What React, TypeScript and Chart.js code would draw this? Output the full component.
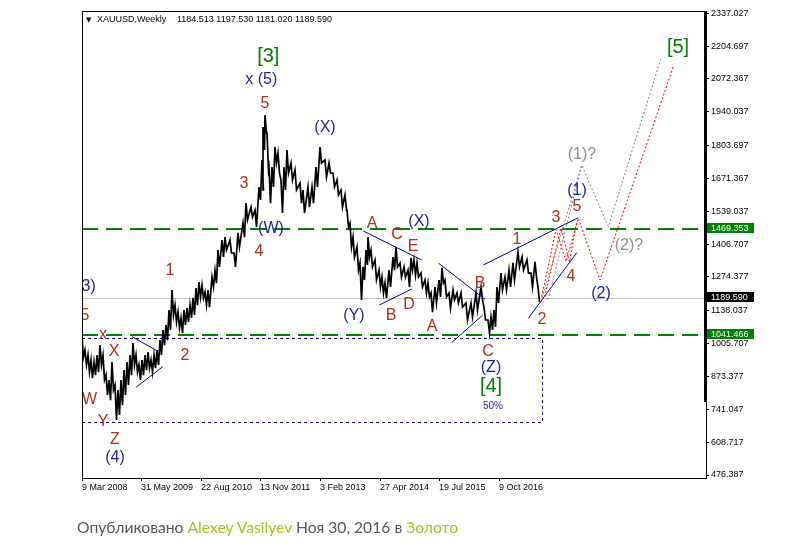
import React, { useEffect, useRef } from "react";
import { Chart, registerables } from "chart.js";

Chart.register(...registerables);

// ---- weekly XAUUSD ranges (bar index from 9 Mar 2008, high, low) ----
const weekIdx = [
  0, 3, 6, 9, 12, 15, 18, 21, 24, 27, 30, 33, 36, 39, 42, 45, 48, 51, 54, 57,
  60, 63, 66, 69, 72, 75, 78, 81, 84, 87, 90, 93, 96, 99, 102, 105, 108, 111, 114, 117,
  120, 123, 126, 130, 133, 136, 140, 143, 148, 152, 156, 161, 164, 169, 173, 177, 180, 181, 183, 185,
  187, 190, 193, 196, 199, 202, 205, 209, 213, 218, 221, 226, 230, 234, 238, 243, 247, 251, 255, 259,
  263, 265, 268, 271, 275, 278, 281, 284, 286, 289, 293, 297, 300, 303, 307, 311, 314, 318, 322, 326,
  329, 332, 335, 339, 343, 346, 349, 353, 357, 360, 363, 367, 371, 375, 379, 384, 389, 394, 399, 402,
  406, 409, 412, 415, 419, 423, 427, 431, 436, 440, 445, 449, 453, 456,
];
const weekHigh = [
  1032, 980, 960, 940, 932, 960, 1000, 960, 879, 859, 932, 839, 819, 859, 899, 932, 960, 1008, 960, 920,
  940, 960, 972, 940, 960, 980, 1020, 1061, 1081, 1141, 1222, 1161, 1133, 1109, 1141, 1149, 1161, 1190, 1230, 1254,
  1242, 1214, 1222, 1274, 1300, 1383, 1423, 1435, 1423, 1371, 1452, 1492, 1572, 1556, 1544, 1637, 1746, 1879, 1927, 1855,
  1717, 1717, 1798, 1774, 1665, 1717, 1786, 1734, 1706, 1653, 1625, 1637, 1637, 1717, 1798, 1746, 1734, 1693, 1665, 1625,
  1605, 1544, 1492, 1435, 1395, 1331, 1315, 1383, 1435, 1383, 1343, 1302, 1274, 1250, 1302, 1355, 1395, 1331, 1315, 1302,
  1351, 1343, 1331, 1290, 1262, 1250, 1210, 1234, 1262, 1311, 1262, 1210, 1222, 1210, 1210, 1169, 1169, 1210, 1234, 1153,
  1101, 1113, 1141, 1234, 1290, 1274, 1302, 1331, 1375, 1355, 1343, 1290, 1335, 1234,
];
const weekLow = [
  952, 920, 891, 867, 879, 891, 920, 859, 799, 778, 819, 698, 718, 758, 799, 839, 879, 920, 891, 859,
  879, 899, 907, 891, 907, 920, 960, 1000, 1020, 1061, 1121, 1093, 1069, 1049, 1081, 1093, 1109, 1121, 1161, 1194,
  1190, 1161, 1153, 1234, 1250, 1315, 1355, 1383, 1371, 1315, 1395, 1435, 1504, 1516, 1476, 1585, 1625, 1786, 1855, 1706,
  1572, 1637, 1734, 1693, 1532, 1625, 1693, 1665, 1625, 1572, 1532, 1556, 1572, 1637, 1734, 1677, 1693, 1637, 1605, 1556,
  1544, 1476, 1395, 1355, 1302, 1182, 1262, 1323, 1355, 1315, 1262, 1234, 1210, 1190, 1234, 1302, 1315, 1274, 1274, 1234,
  1302, 1282, 1274, 1234, 1210, 1194, 1133, 1170, 1194, 1250, 1194, 1149, 1182, 1170, 1153, 1101, 1113, 1141, 1182, 1101,
  1049, 1061, 1073, 1170, 1222, 1222, 1234, 1262, 1315, 1302, 1290, 1234, 1274, 1174,
];

// ---- axes ----
const xTickIdx = [0, 59, 119, 178, 238, 298, 357, 417];
const xTickLabels = ["9 Mar 2008", "31 May 2009", "22 Aug 2010", "13 Nov 2011", "3 Feb 2013", "27 Apr 2014", "19 Jul 2015", "9 Oct 2016"];
const yTicks = [476.387, 608.717, 741.047, 873.377, 1005.707, 1138.037, 1274.377, 1406.707, 1539.037, 1671.367, 1803.697, 1940.037, 2072.367, 2204.697, 2337.027];
const yMin = 464.3;
const yMax = 2346.3;
const xMax = 624;

// ---- header / levels ----
const symbolTitle = "XAUUSD,Weekly";
const ohlc = [1184.513, 1197.53, 1181.02, 1189.59];
const levelGreen = [1469.353, 1041.466];
const lastClose = 1189.59;

// ---- wave annotations (text, bar index, price, color key, font size) ----
const waveLabels: [string, number, number, string, number][] = [
  ["[3]", 186.3, 2163, "g", 20],
  ["x (5)", 179.3, 2070, "b", 16],
  ["5", 183, 1975, "r", 16],
  ["(X)", 243, 1875, "b", 16],
  ["3", 162, 1650, "r", 16],
  ["(W)", 189, 1471, "b", 16],
  ["4", 177, 1378, "r", 16],
  ["1", 88, 1302, "r", 16],
  ["2", 103, 956, "r", 16],
  ["(3)", 4, 1234, "b", 16],
  ["5", 3, 1117, "r", 16],
  ["x", 21, 1043, "r", 16],
  ["X", 32, 973, "r", 16],
  ["W", 7.5, 779, "r", 16],
  ["Y", 21, 691, "r", 16],
  ["Z", 33, 620, "r", 16],
  ["(4)", 33, 545, "b", 16],
  ["(Y)", 272, 1120, "b", 16],
  ["A", 290, 1491, "r", 16],
  ["C", 315, 1446, "r", 16],
  ["(X)", 337, 1498, "b", 16],
  ["E", 331, 1395, "r", 16],
  ["B", 309, 1117, "r", 16],
  ["D", 327, 1162, "r", 16],
  ["A", 350, 1074, "r", 16],
  ["B", 398, 1246, "r", 16],
  ["1", 435, 1426, "r", 16],
  ["C", 406, 973, "r", 16],
  ["(Z)", 409, 911, "b", 16],
  ["[4]", 409, 832, "g", 20],
  ["50%", 411, 755, "b", 10],
  ["3", 474, 1515, "r", 16],
  ["5", 495, 1558, "r", 16],
  ["(1)", 495, 1623, "b", 16],
  ["(1)?", 500, 1767, "gr", 16],
  ["4", 489, 1276, "r", 16],
  ["2", 460, 1101, "r", 16],
  ["(2)", 519, 1207, "b", 16],
  ["(2)?", 547, 1399, "gr", 16],
  ["[5]", 596, 2200, "g", 20],
];

// trend lines: [idx1, price1, idx2, price2]
const waveLines: number[][] = [
  [50, 1033.7, 75, 977],
  [54, 829.8, 80.7, 912.8],
  [281.3, 1459.7, 339.7, 1342.8],
  [297.3, 1161.4, 329.7, 1225.9],
  [356.3, 1330.7, 403, 1184.4],
  [369.7, 1009.5, 400.7, 1121],
  [401.3, 1322.6, 496.3, 1513.3],
  [446.3, 1107.9, 494.7, 1372.2],
];
// projected paths: [idx, price]
const redPathA = [[459.7, 1194.9], [474, 1465.7], [484, 1336], [496.3, 1510.9], [518, 1262.2], [591.3, 2121.8]];
const redPathB = [[462.5, 1193.7], [479, 1471.8], [487.5, 1334.7], [494.5, 1496]];
const grayPathA = [[460, 1189.7], [499.7, 1725.6], [526.3, 1477], [578.7, 2151.6]];
const grayPathB = [[466, 1181.6], [499.7, 1725.6]];
// dotted box [idxFrom, idxTo, priceTop, priceBottom]
const targetBox = [0, 459.7, 1027, 691];
// thick marker at right edge [idx, priceTop, priceBottom]
const edgeBar = [623, yMax, 770.5];

const COLORS: Record<string, string> = {
  r: "#a8321e",
  b: "#1e1e9c",
  g: "#008000",
  gr: "#8c8c8c",
};
const MT_FONT = "'Liberation Sans', Arial, sans-serif";

const overlay = {
  id: "overlay",
  beforeDatasetsDraw(chart: any) {
    const { ctx, chartArea: a, scales } = chart;
    const X = (v: number) => scales.x.getPixelForValue(v);
    const Y = (v: number) => scales.y.getPixelForValue(v);
    ctx.save();
    ctx.beginPath();
    ctx.rect(a.left, a.top, a.right - a.left, a.bottom - a.top);
    ctx.clip();
    // last close line
    ctx.strokeStyle = "#c0c0c0";
    ctx.lineWidth = 1;
    let y = Math.round(Y(lastClose)) + 0.5;
    ctx.beginPath();
    ctx.moveTo(a.left, y);
    ctx.lineTo(a.right, y);
    ctx.stroke();
    // green dashed levels
    ctx.strokeStyle = "#008000";
    ctx.lineWidth = 2;
    ctx.setLineDash([16, 8]);
    for (const lv of levelGreen) {
      y = Math.round(Y(lv));
      ctx.beginPath();
      ctx.moveTo(a.left, y);
      ctx.lineTo(a.right, y);
      ctx.stroke();
    }
    // dotted target box
    ctx.strokeStyle = "#000080";
    ctx.lineWidth = 1;
    ctx.setLineDash([3, 3]);
    const [i0, i1, pt, pb] = targetBox;
    const x0 = X(i0), x1 = Math.round(X(i1)) + 0.5;
    const yt = Math.round(Y(pt)) + 0.5, yb = Math.round(Y(pb)) + 0.5;
    ctx.beginPath();
    ctx.moveTo(x0, yt);
    ctx.lineTo(x1, yt);
    ctx.lineTo(x1, yb);
    ctx.lineTo(x0, yb);
    ctx.stroke();
    ctx.restore();
  },
  afterDatasetsDraw(chart: any) {
    const { ctx, chartArea: a, scales } = chart;
    const X = (v: number) => scales.x.getPixelForValue(v);
    const Y = (v: number) => scales.y.getPixelForValue(v);
    ctx.save();
    ctx.beginPath();
    ctx.rect(a.left + 1, a.top + 1, a.right - a.left - 1, a.bottom - a.top - 1);
    ctx.clip();
    // trend lines
    ctx.strokeStyle = "#00008b";
    ctx.lineWidth = 1;
    for (const [ia, pa, ib, pb] of waveLines) {
      ctx.beginPath();
      ctx.moveTo(X(ia), Y(pa));
      ctx.lineTo(X(ib), Y(pb));
      ctx.stroke();
    }
    const path = (pts: number[][], color: string) => {
      ctx.strokeStyle = color;
      ctx.lineWidth = 1;
      ctx.setLineDash([2, 2]);
      ctx.beginPath();
      pts.forEach(([i, p], k) => (k ? ctx.lineTo(X(i), Y(p)) : ctx.moveTo(X(i), Y(p))));
      ctx.stroke();
      ctx.setLineDash([]);
    };
    path(grayPathA, "#808080");
    path(grayPathB, "#808080");
    path(redPathA, "#ff0000");
    path(redPathB, "#ff0000");
    // labels
    ctx.textAlign = "center";
    ctx.textBaseline = "middle";
    for (const [t, i, p, c, s] of waveLabels) {
      ctx.font = `${s}px ${MT_FONT}`;
      ctx.fillStyle = COLORS[c];
      ctx.fillText(t, X(i), Y(p));
    }
    ctx.restore();
  },
  afterDraw(chart: any) {
    const { ctx, chartArea: a, scales } = chart;
    const X = (v: number) => scales.x.getPixelForValue(v);
    const Y = (v: number) => scales.y.getPixelForValue(v);
    ctx.save();
    // frame
    ctx.strokeStyle = "#000";
    ctx.lineWidth = 1;
    ctx.strokeRect(a.left + 0.5, a.top + 0.5, a.right - a.left, a.bottom - a.top);
    // thick edge marker
    ctx.fillStyle = "#000";
    const [ei, ep0, ep1] = edgeBar;
    ctx.fillRect(X(ei) - 1, Y(ep0), 3, Y(ep1) - Y(ep0));
    // axis badges
    ctx.font = `9px ${MT_FONT}`;
    ctx.textAlign = "left";
    ctx.textBaseline = "middle";
    const badge = (v: number, bg: string) => {
      const y = Math.round(Y(v));
      ctx.fillStyle = bg;
      ctx.fillRect(a.right + 1, y - 6, 47, 10);
      ctx.fillStyle = "#fff";
      ctx.fillText(v.toFixed(3), a.right + 5, y - 0.5);
    };
    badge(levelGreen[0], "#008000");
    badge(levelGreen[1], "#008000");
    badge(lastClose, "#000000");
    // header
    ctx.fillStyle = "#000";
    ctx.font = `7px 'DejaVu Sans', sans-serif`;
    ctx.fillText("▼", a.left + 4, a.top + 9);
    ctx.font = `9px ${MT_FONT}`;
    ctx.fillText(symbolTitle, a.left + 15, a.top + 9);
    ctx.fillText(ohlc.map((v) => v.toFixed(3)).join(" "), a.left + 95, a.top + 9);
    ctx.restore();
  },
};

export default function App() {
  const ref = useRef<HTMLCanvasElement>(null);
  useEffect(() => {
    const canvas = ref.current!;
    const points = weekIdx.flatMap((w, i) => [
      { x: w, y: weekHigh[i] },
      { x: w + 1.5, y: weekLow[i] },
    ]);
    const chart = new Chart(canvas, {
      type: "line",
      data: {
        datasets: [
          {
            data: points,
            borderColor: "#000",
            borderWidth: 1.7,
            pointRadius: 0,
            tension: 0,
          },
        ],
      },
      options: {
        animation: false,
        responsive: false,
        devicePixelRatio: 1,
        layout: { padding: { left: 82, top: 11, right: 0, bottom: 0 } },
        plugins: { legend: { display: false }, tooltip: { enabled: false } },
        scales: {
          x: {
            type: "linear",
            position: "bottom",
            min: 0,
            max: xMax,
            afterFit: (s: any) => {
              s.height = 80;
            },
            afterBuildTicks: (s: any) => {
              s.ticks = xTickIdx.map((v) => ({ value: v }));
            },
            ticks: {
              autoSkip: false,
              maxRotation: 0,
              align: "start",
              padding: 1,
              color: "#000",
              font: { family: MT_FONT, size: 9 },
              callback: (_v: any, i: number) => xTickLabels[i] ?? "",
            },
            grid: { drawOnChartArea: false, tickLength: 3, color: "#000" },
            border: { display: false },
          },
          y: {
            type: "linear",
            position: "right",
            min: yMin,
            max: yMax,
            afterFit: (s: any) => {
              s.width = 86;
            },
            afterBuildTicks: (s: any) => {
              s.ticks = yTicks.map((v) => ({ value: v }));
            },
            ticks: {
              autoSkip: false,
              padding: 2,
              color: "#000",
              font: { family: MT_FONT, size: 9 },
              callback: (v: any) => Number(v).toFixed(3),
            },
            grid: { drawOnChartArea: false, tickLength: 3, color: "#000" },
            border: { display: false },
          },
        },
      } as any,
      plugins: [overlay],
    });
    return () => chart.destroy();
  }, []);

  const green = { color: "#9fc41c" };
  return (
    <div style={{ position: "absolute", left: 0, top: 0, width: 792, height: 558, background: "#fff", overflow: "hidden" }}>
      <canvas ref={ref} width={792} height={558} style={{ display: "block", width: 792, height: 558 }} />
      <div
        style={{
          position: "absolute",
          left: 77,
          top: 518,
          fontFamily: "Lato, 'Open Sans', sans-serif",
          fontSize: 15.7,
          lineHeight: "19px",
          color: "#555555",
          whiteSpace: "nowrap",
        }}
      >
        Опубликовано <span style={green}>Alexey Vasilyev</span> Ноя 30, 2016 в <span style={green}>Золото</span>
      </div>
    </div>
  );
}
